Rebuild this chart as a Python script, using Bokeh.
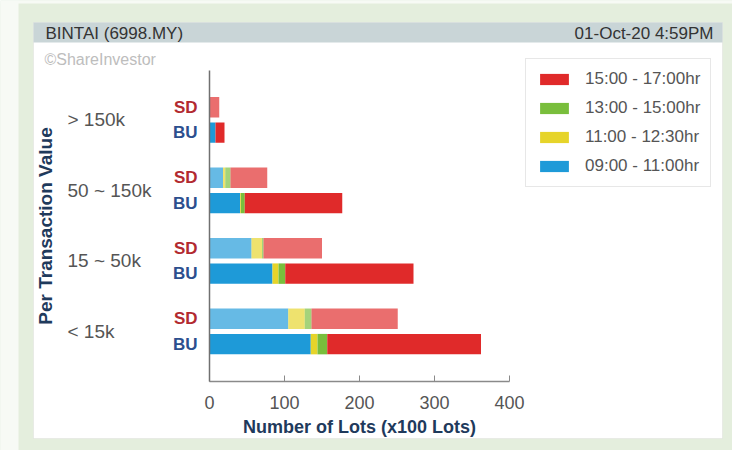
from bokeh.plotting import figure
from bokeh.models import (ColumnDataSource, BoxAnnotation, Label, LabelSet, Legend,
                          LegendItem, FixedTicker, Range1d)
from bokeh.core.properties import value
from bokeh.embed import file_html
from bokeh.resources import INLINE

# ---------------- data ----------------
categories = ["< 15k", "15 ~ 50k", "50 ~ 150k", "> 150k"]
periods = ["09:00 - 11:00hr", "11:00 - 12:30hr", "13:00 - 15:00hr", "15:00 - 17:00hr"]
# BU lots per period, per category (bottom to top)
bu_0900 = [135, 84, 41, 8]
bu_1100 = [9, 8, 1, 0]
bu_1300 = [13, 9, 5, 0]
bu_1500 = [205, 171, 130, 12]
# SD lots per period, per category
sd_0900 = [105, 56, 18, 0]
sd_1100 = [22, 14, 3, 0]
sd_1300 = [9, 2, 7, 0]
sd_1500 = [115, 78, 49, 13]
x_ticks = [0, 100, 200, 300, 400]
x_bounds = (0, 400)
title_left = "BINTAI (6998.MY)"
title_right = "01-Oct-20 4:59PM"
credit = "©ShareInvestor"
x_title = "Number of Lots (x100 Lots)"
y_title = "Per Transaction Value"

# ---------------- layout / style ----------------
FONT = "Liberation Sans"
period_colors = ["#1e9ad8", "#e6d42a", "#79be3c", "#e02a2a"]
W, H = 732, 450
X0_PX = 209          # canvas x of value 0
PX = 0.75            # pixels per lot unit
Y_LO = -0.71         # y value of the x-axis line
Y_HI = 3.70          # y value of the top of the y-axis
YAX_PX = 381         # canvas y of the x-axis line
PY = 70.5            # pixels per category step


def dx(cx):
    return (cx - X0_PX) / PX


def dy(cyy):
    return Y_LO + (YAX_PX - cyy) / PY


stackers = ["p0900", "p1100", "p1300", "p1500"]
idx = list(range(len(categories)))
src_bu = ColumnDataSource(dict(y=[i - 0.18 for i in idx], x=[0] * 4, p0900=bu_0900,
                               p1100=bu_1100, p1300=bu_1300, p1500=bu_1500, lab=["BU"] * 4))
src_sd = ColumnDataSource(dict(y=[i + 0.18 for i in idx], x=[0] * 4, p0900=sd_0900,
                               p1100=sd_1100, p1300=sd_1300, p1500=sd_1500, lab=["SD"] * 4))
src_cat = ColumnDataSource(dict(y=idx, x=[0] * 4, text=categories))

p = figure(width=W, height=H, x_range=Range1d(dx(0), dx(W)), y_range=Range1d(dy(H), dy(0)),
           output_backend="svg", toolbar_location=None, min_border=0,
           border_fill_color="#e4eedd", background_fill_color="#e4eedd",
           outline_line_color=None)
p.title.visible = False


def box(l, r, t, b, fill, line=None):
    p.add_layout(BoxAnnotation(left=dx(l), right=dx(r), top=dy(t), bottom=dy(b),
                               fill_color=fill, fill_alpha=1, line_color=line,
                               line_width=1, level="underlay"))


box(0, 18, 0, H, "#f7faf5")
box(0, W, 0, 3, "#f7faf5")
box(33, 722, 22, 438, "white", "#cfcfcf")
box(33, 722, 22, 42, "#c9d5d7")

p.add_layout(Label(x=dx(45), y=dy(33), text=title_left, text_font=FONT,
                   text_font_size="17px", text_color="#333333",
                   text_baseline="middle", text_align="left"))
p.add_layout(Label(x=dx(713), y=dy(33), text=title_right, text_font=FONT,
                   text_font_size="17px", text_color="#333333",
                   text_baseline="middle", text_align="right"))
p.add_layout(Label(x=dx(44), y=dy(59), text=credit, text_font=FONT,
                   text_font_size="16px", text_color="#bdbdbd",
                   text_baseline="middle", text_align="left"))

# bars
bu_r = p.hbar_stack(stackers, y="y", height=0.29, source=src_bu,
                    fill_color=period_colors, line_color=None)
sd_r = p.hbar_stack(stackers, y="y", height=0.29, source=src_sd,
                    fill_color=period_colors, fill_alpha=0.68, line_color=None)

# labels on the left
p.add_layout(LabelSet(x="x", y="y", text="text", source=src_cat, x_offset=-142,
                      text_font=value(FONT), text_font_size="19px", text_color="#555555",
                      text_align="left", text_baseline="middle"))
p.add_layout(LabelSet(x="x", y="y", text="lab", source=src_sd, x_offset=-12,
                      text_font=value(FONT), text_font_size="17px", text_font_style="bold",
                      text_color="#b22a30", text_align="right", text_baseline="middle"))
p.add_layout(LabelSet(x="x", y="y", text="lab", source=src_bu, x_offset=-12,
                      text_font=value(FONT), text_font_size="17px", text_font_style="bold",
                      text_color="#2c4f8e", text_align="right", text_baseline="middle"))

# axes
p.xgrid.visible = False
p.ygrid.visible = False
xa = p.xaxis[0]
xa.fixed_location = Y_LO
xa.bounds = x_bounds
xa.ticker = FixedTicker(ticks=x_ticks)
xa.major_tick_in = 6
xa.major_tick_out = 0
xa.minor_tick_line_color = None
xa.axis_line_color = "#8a8a8a"
xa.axis_line_width = 1.5
xa.major_tick_line_color = "#8a8a8a"
xa.major_label_text_font = FONT
xa.major_label_text_font_size = "18px"
xa.major_label_text_color = "#555555"
xa.major_label_standoff = 14
xa.axis_label = x_title
xa.axis_label_text_font = FONT
xa.axis_label_text_font_size = "18px"
xa.axis_label_text_font_style = "bold"
xa.axis_label_text_color = "#1f3a5c"
xa.axis_label_standoff = 5

ya = p.yaxis[0]
ya.fixed_location = 0
ya.bounds = (Y_LO, Y_HI)
ya.ticker = FixedTicker(ticks=[])
ya.major_tick_out = 0
ya.major_tick_in = 0
ya.minor_tick_line_color = None
ya.axis_line_color = "#707070"
ya.axis_line_width = 1.5
ya.axis_label = y_title
ya.axis_label_text_font = FONT
ya.axis_label_text_font_size = "19px"
ya.axis_label_text_font_style = "bold"
ya.axis_label_text_color = "#1f3a5c"
ya.axis_label_standoff = 154

# legend
items = [LegendItem(label=periods[k], renderers=[bu_r[k]]) for k in [3, 2, 1, 0]]
legend = Legend(items=items, location=(525, H - 187), orientation="vertical",
                glyph_width=36, glyph_height=14, label_standoff=13, label_height=20,
                spacing=9, padding=10, margin=0,
                label_text_font=FONT, label_text_font_size="17px", label_text_color="#555555",
                border_line_color="#d0d0d0", border_line_width=1,
                background_fill_color="white", background_fill_alpha=1)
p.add_layout(legend)

open("out.html", "w").write(file_html(p, INLINE))
